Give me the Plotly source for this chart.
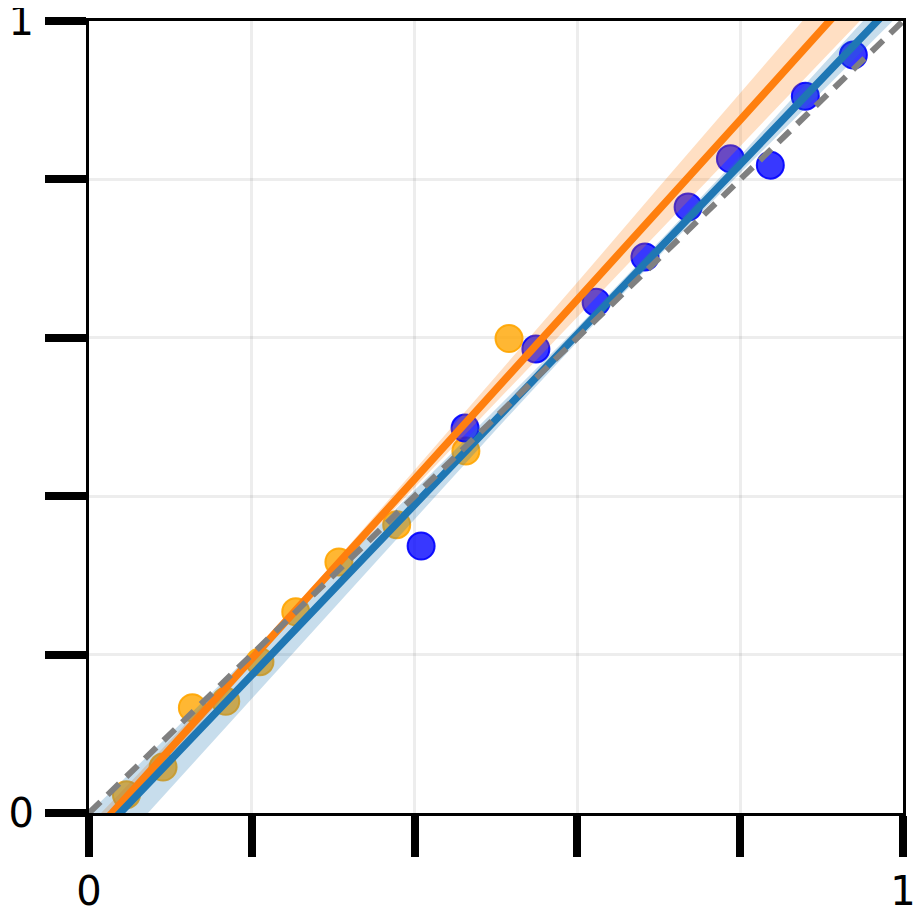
import plotly.graph_objects as go

# Orange series points
orange_x = [0.046, 0.091, 0.127, 0.168, 0.210, 0.254, 0.307, 0.378, 0.463, 0.516]
orange_y = [0.023, 0.058, 0.133, 0.141, 0.191, 0.254, 0.317, 0.364, 0.457, 0.599]

# Blue series points
blue_x = [0.408, 0.462, 0.549, 0.623, 0.683, 0.736, 0.788, 0.837, 0.880, 0.939]
blue_y = [0.337, 0.486, 0.586, 0.645, 0.702, 0.765, 0.826, 0.818, 0.905, 0.957]

# Fit lines and confidence bands, sampled along x
band_x = [0.0, 0.1, 0.2, 0.3, 0.4, 0.5, 0.6, 0.7, 0.8, 0.9, 1.0]
orange_fit = [-0.032, 0.081, 0.195, 0.308, 0.422, 0.535, 0.648, 0.762, 0.875, 0.989, 1.102]
orange_lo = [-0.048, 0.070, 0.188, 0.301, 0.411, 0.519, 0.626, 0.734, 0.842, 0.950, 1.057]
orange_hi = [-0.016, 0.092, 0.202, 0.315, 0.433, 0.551, 0.670, 0.790, 0.909, 1.028, 1.147]
blue_fit = [-0.041, 0.067, 0.174, 0.282, 0.389, 0.497, 0.604, 0.712, 0.819, 0.927, 1.034]
blue_lo = [-0.082, 0.033, 0.146, 0.259, 0.371, 0.484, 0.595, 0.703, 0.808, 0.911, 1.013]
blue_hi = [0.000, 0.100, 0.202, 0.305, 0.407, 0.510, 0.613, 0.721, 0.830, 0.943, 1.055]

ident_x = [0.0, 1.0]
ident_y = [0.0, 1.0]

tick_vals = [0.0, 0.2, 0.4, 0.6, 0.8, 1.0]
tick_text = ["0", "", "", "", "", "1"]

fig = go.Figure()

fig.add_trace(go.Scatter(x=orange_x, y=orange_y, mode="markers",
                         marker=dict(size=27, color="rgba(255,165,0,0.8)",
                                     line=dict(width=2, color="rgba(255,165,0,0.9)")),
                         showlegend=False))
fig.add_trace(go.Scatter(x=blue_x, y=blue_y, mode="markers",
                         marker=dict(size=27, color="rgba(0,0,255,0.78)",
                                     line=dict(width=2, color="rgba(0,0,255,0.9)")),
                         showlegend=False))

# bands
fig.add_trace(go.Scatter(x=band_x + band_x[::-1], y=orange_hi + orange_lo[::-1],
                         fill="toself", fillcolor="rgba(255,127,14,0.25)",
                         line=dict(width=0), mode="lines", showlegend=False, hoverinfo="skip"))
fig.add_trace(go.Scatter(x=band_x + band_x[::-1], y=blue_hi + blue_lo[::-1],
                         fill="toself", fillcolor="rgba(31,119,180,0.25)",
                         line=dict(width=0), mode="lines", showlegend=False, hoverinfo="skip"))

fig.add_trace(go.Scatter(x=band_x, y=orange_fit, mode="lines",
                         line=dict(color="#ff7f0e", width=7.5), showlegend=False))
fig.add_trace(go.Scatter(x=band_x, y=blue_fit, mode="lines",
                         line=dict(color="#1f77b4", width=7.5), showlegend=False))
fig.add_trace(go.Scatter(x=ident_x, y=ident_y, mode="lines",
                         line=dict(color="#808080", width=6, dash="16px,10px"), showlegend=False))

axis_common = dict(
    range=[0, 1.0000001], tickvals=tick_vals, ticktext=tick_text,
    ticks="outside", ticklen=41, tickwidth=8, tickcolor="black",
    showline=True, linewidth=3, linecolor="black", mirror=True,
    showgrid=True, gridcolor="rgba(0,0,0,0.07)", gridwidth=2.5,
    zeroline=False, automargin=False, ticklabeloverflow="allow",
    tickfont=dict(family="DejaVu Sans", size=40, color="black"),
)

fig.update_xaxes(ticklabelstandoff=0, **axis_common)
fig.update_yaxes(ticklabelstandoff=3, **axis_common)

fig.update_layout(
    width=913, height=908,
    margin=dict(l=81, r=18, t=13, b=103),
    plot_bgcolor="white", paper_bgcolor="white",
    showlegend=False,
)

fig.write_html("out.html")
